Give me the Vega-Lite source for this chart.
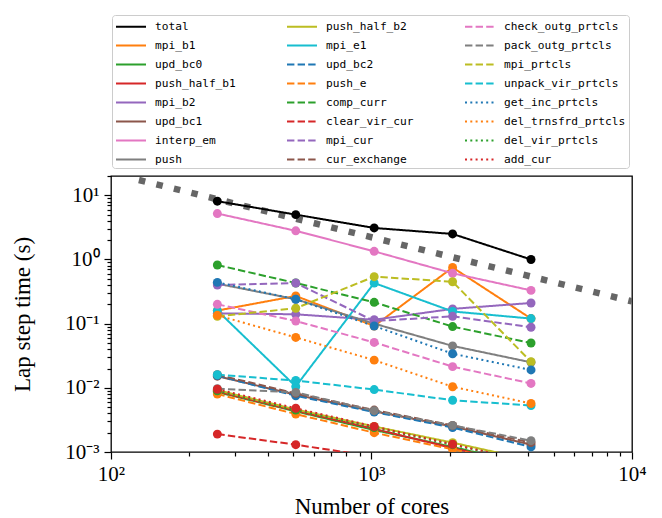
{
  "$schema": "https://vega.github.io/schema/vega-lite/v6.json",
  "width": 521,
  "height": 276,
  "autosize": {"type": "none"},
  "padding": {"left": 111, "top": 176, "right": 30, "bottom": 66},
  "background": "white",
  "config": {
    "view": {"stroke": "black", "strokeWidth": 1.3},
    "axis": {
      "grid": false,
      "domain": false,
      "tickColor": "black",
      "tickWidth": 1.2,
      "labelFont": "Liberation Serif",
      "labelFontSize": 21,
      "labelColor": "black",
      "titleFont": "Liberation Serif",
      "titleFontSize": 23,
      "titleFontWeight": "normal",
      "titleColor": "black",
      "labelFlush": false,
      "labelOverlap": false,
      "labelBound": false
    }
  },
  "datasets": {
    "ideal": [
      {"cores": 128, "time": 17.34},
      {"cores": 10000, "time": 0.222}
    ],
    "timings": [
      {"series": "total", "cores": 256, "time": 8.1},
      {"series": "total", "cores": 512, "time": 5.0},
      {"series": "total", "cores": 1024, "time": 3.1},
      {"series": "total", "cores": 2048, "time": 2.5},
      {"series": "total", "cores": 4096, "time": 1.0},
      {"series": "mpi_b1", "cores": 256, "time": 0.16},
      {"series": "mpi_b1", "cores": 512, "time": 0.27},
      {"series": "mpi_b1", "cores": 1024, "time": 0.092},
      {"series": "mpi_b1", "cores": 2048, "time": 0.75},
      {"series": "mpi_b1", "cores": 4096, "time": 0.12},
      {"series": "upd_bc0", "cores": 256, "time": 0.0086},
      {"series": "upd_bc0", "cores": 512, "time": 0.0043},
      {"series": "upd_bc0", "cores": 1024, "time": 0.0022},
      {"series": "upd_bc0", "cores": 2048, "time": 0.0012},
      {"series": "upd_bc0", "cores": 4096, "time": 0.00062},
      {"series": "push_half_b1", "cores": 256, "time": 0.0088},
      {"series": "push_half_b1", "cores": 512, "time": 0.0044},
      {"series": "push_half_b1", "cores": 1024, "time": 0.0023},
      {"series": "push_half_b1", "cores": 2048, "time": 0.00115},
      {"series": "push_half_b1", "cores": 4096, "time": 0.0006},
      {"series": "mpi_b2", "cores": 256, "time": 0.145},
      {"series": "mpi_b2", "cores": 512, "time": 0.14},
      {"series": "mpi_b2", "cores": 1024, "time": 0.115},
      {"series": "mpi_b2", "cores": 2048, "time": 0.17},
      {"series": "mpi_b2", "cores": 4096, "time": 0.21},
      {"series": "upd_bc1", "cores": 256, "time": 0.0152},
      {"series": "upd_bc1", "cores": 512, "time": 0.0078},
      {"series": "upd_bc1", "cores": 1024, "time": 0.0043},
      {"series": "upd_bc1", "cores": 2048, "time": 0.0025},
      {"series": "upd_bc1", "cores": 4096, "time": 0.0013},
      {"series": "interp_em", "cores": 256, "time": 5.2},
      {"series": "interp_em", "cores": 512, "time": 2.8},
      {"series": "interp_em", "cores": 1024, "time": 1.34},
      {"series": "interp_em", "cores": 2048, "time": 0.61},
      {"series": "interp_em", "cores": 4096, "time": 0.33},
      {"series": "push", "cores": 256, "time": 0.42},
      {"series": "push", "cores": 512, "time": 0.24},
      {"series": "push", "cores": 1024, "time": 0.1},
      {"series": "push", "cores": 2048, "time": 0.045},
      {"series": "push", "cores": 4096, "time": 0.025},
      {"series": "push_half_b2", "cores": 256, "time": 0.0092},
      {"series": "push_half_b2", "cores": 512, "time": 0.0046},
      {"series": "push_half_b2", "cores": 1024, "time": 0.0025},
      {"series": "push_half_b2", "cores": 2048, "time": 0.0014},
      {"series": "push_half_b2", "cores": 4096, "time": 0.00075},
      {"series": "mpi_e1", "cores": 256, "time": 0.16},
      {"series": "mpi_e1", "cores": 512, "time": 0.0105},
      {"series": "mpi_e1", "cores": 1024, "time": 0.43},
      {"series": "mpi_e1", "cores": 2048, "time": 0.155},
      {"series": "mpi_e1", "cores": 4096, "time": 0.12},
      {"series": "upd_bc2", "cores": 256, "time": 0.0155},
      {"series": "upd_bc2", "cores": 512, "time": 0.0075},
      {"series": "upd_bc2", "cores": 1024, "time": 0.0042},
      {"series": "upd_bc2", "cores": 2048, "time": 0.0024},
      {"series": "upd_bc2", "cores": 4096, "time": 0.0012},
      {"series": "push_e", "cores": 256, "time": 0.008},
      {"series": "push_e", "cores": 512, "time": 0.0039},
      {"series": "push_e", "cores": 1024, "time": 0.002},
      {"series": "push_e", "cores": 2048, "time": 0.0011},
      {"series": "push_e", "cores": 4096, "time": 0.0006},
      {"series": "comp_curr", "cores": 256, "time": 0.82},
      {"series": "comp_curr", "cores": 512, "time": 0.43},
      {"series": "comp_curr", "cores": 1024, "time": 0.215},
      {"series": "comp_curr", "cores": 2048, "time": 0.09},
      {"series": "comp_curr", "cores": 4096, "time": 0.05},
      {"series": "clear_vir_cur", "cores": 256, "time": 0.0019},
      {"series": "clear_vir_cur", "cores": 512, "time": 0.0013},
      {"series": "clear_vir_cur", "cores": 1024, "time": 0.00085},
      {"series": "clear_vir_cur", "cores": 2048, "time": 0.0005},
      {"series": "clear_vir_cur", "cores": 4096, "time": 0.0003},
      {"series": "mpi_cur", "cores": 256, "time": 0.4},
      {"series": "mpi_cur", "cores": 512, "time": 0.43},
      {"series": "mpi_cur", "cores": 1024, "time": 0.11},
      {"series": "mpi_cur", "cores": 2048, "time": 0.13},
      {"series": "mpi_cur", "cores": 4096, "time": 0.088},
      {"series": "cur_exchange", "cores": 256, "time": 0.016},
      {"series": "cur_exchange", "cores": 512, "time": 0.0082},
      {"series": "cur_exchange", "cores": 1024, "time": 0.0045},
      {"series": "cur_exchange", "cores": 2048, "time": 0.0026},
      {"series": "cur_exchange", "cores": 4096, "time": 0.0014},
      {"series": "check_outg_prtcls", "cores": 256, "time": 0.2},
      {"series": "check_outg_prtcls", "cores": 512, "time": 0.11},
      {"series": "check_outg_prtcls", "cores": 1024, "time": 0.051},
      {"series": "check_outg_prtcls", "cores": 2048, "time": 0.0214},
      {"series": "check_outg_prtcls", "cores": 4096, "time": 0.0117},
      {"series": "pack_outg_prtcls", "cores": 256, "time": 0.0097},
      {"series": "pack_outg_prtcls", "cores": 512, "time": 0.0085},
      {"series": "pack_outg_prtcls", "cores": 1024, "time": 0.0044},
      {"series": "pack_outg_prtcls", "cores": 2048, "time": 0.0026},
      {"series": "pack_outg_prtcls", "cores": 4096, "time": 0.0015},
      {"series": "mpi_prtcls", "cores": 256, "time": 0.13},
      {"series": "mpi_prtcls", "cores": 512, "time": 0.174},
      {"series": "mpi_prtcls", "cores": 1024, "time": 0.54},
      {"series": "mpi_prtcls", "cores": 2048, "time": 0.45},
      {"series": "mpi_prtcls", "cores": 4096, "time": 0.0255},
      {"series": "unpack_vir_prtcls", "cores": 256, "time": 0.016},
      {"series": "unpack_vir_prtcls", "cores": 512, "time": 0.013},
      {"series": "unpack_vir_prtcls", "cores": 1024, "time": 0.0094},
      {"series": "unpack_vir_prtcls", "cores": 2048, "time": 0.0064},
      {"series": "unpack_vir_prtcls", "cores": 4096, "time": 0.0053},
      {"series": "get_inc_prtcls", "cores": 256, "time": 0.44},
      {"series": "get_inc_prtcls", "cores": 512, "time": 0.24},
      {"series": "get_inc_prtcls", "cores": 1024, "time": 0.092},
      {"series": "get_inc_prtcls", "cores": 2048, "time": 0.034},
      {"series": "get_inc_prtcls", "cores": 4096, "time": 0.019},
      {"series": "del_trnsfrd_prtcls", "cores": 256, "time": 0.135},
      {"series": "del_trnsfrd_prtcls", "cores": 512, "time": 0.061},
      {"series": "del_trnsfrd_prtcls", "cores": 1024, "time": 0.027},
      {"series": "del_trnsfrd_prtcls", "cores": 2048, "time": 0.0104},
      {"series": "del_trnsfrd_prtcls", "cores": 4096, "time": 0.0057},
      {"series": "del_vir_prtcls", "cores": 256, "time": 0.009},
      {"series": "del_vir_prtcls", "cores": 512, "time": 0.0045},
      {"series": "del_vir_prtcls", "cores": 1024, "time": 0.0024},
      {"series": "del_vir_prtcls", "cores": 2048, "time": 0.0013},
      {"series": "del_vir_prtcls", "cores": 4096, "time": 0.0007},
      {"series": "add_cur", "cores": 256, "time": 0.0095},
      {"series": "add_cur", "cores": 512, "time": 0.0048},
      {"series": "add_cur", "cores": 1024, "time": 0.0025},
      {"series": "add_cur", "cores": 2048, "time": 0.00132},
      {"series": "add_cur", "cores": 4096, "time": 0.0007}
    ]
  },
  "layer": [
    {
      "data": {"name": "ideal"},
      "mark": {"type": "line", "color": "#666666", "strokeWidth": 6.5, "strokeDash": [6.5, 11.5], "strokeCap": "butt", "clip": true},
      "encoding": {
        "x": {"field": "cores", "type": "quantitative", "scale": {"type": "log", "domain": [100, 10000], "nice": false}},
        "y": {"field": "time", "type": "quantitative", "scale": {"type": "log", "domain": [0.001, 20], "nice": false}}
      }
    },
    {
      "data": {"name": "timings"},
      "mark": {"type": "line", "strokeWidth": 2, "clip": true, "point": {"filled": true, "size": 80, "opacity": 1}},
      "encoding": {
        "x": {
          "field": "cores", "type": "quantitative",
          "scale": {"type": "log", "domain": [100, 10000], "nice": false},
          "axis": {
            "title": "Number of cores",
            "titlePadding": 11,
            "values": [100, 200, 300, 400, 500, 600, 700, 800, 900, 1000, 2000, 3000, 4000, 5000, 6000, 7000, 8000, 9000, 10000],
            "labelExpr": "datum.value == 100 ? '10²' : datum.value == 1000 ? '10³' : datum.value == 10000 ? '10⁴' : ''",
            "tickSize": {"condition": {"test": "datum.value == 100 || datum.value == 1000 || datum.value == 10000", "value": 7}, "value": 4},
            "labelPadding": 4
          }
        },
        "y": {
          "field": "time", "type": "quantitative",
          "scale": {"type": "log", "domain": [0.001, 20], "nice": false},
          "axis": {
            "title": "Lap step time (s)",
            "titlePadding": 30,
            "values": [0.001, 0.002, 0.003, 0.004, 0.005, 0.006, 0.007, 0.008, 0.009, 0.01, 0.02, 0.03, 0.04, 0.05, 0.06, 0.07, 0.08, 0.09, 0.1, 0.2, 0.3, 0.4, 0.5, 0.6, 0.7, 0.8, 0.9, 1, 2, 3, 4, 5, 6, 7, 8, 9, 10, 20],
            "labelExpr": "datum.value == 0.001 ? '10⁻³' : datum.value == 0.01 ? '10⁻²' : datum.value == 0.1 ? '10⁻¹' : datum.value == 1 ? '10⁰' : datum.value == 10 ? '10¹' : ''",
            "tickSize": {"condition": {"test": "datum.value == 0.001 || datum.value == 0.01 || datum.value == 0.1 || datum.value == 1 || datum.value == 10", "value": 7}, "value": 4},
            "labelPadding": 5
          }
        },
        "color": {
          "field": "series", "type": "nominal",
          "scale": {
            "domain": ["total", "mpi_b1", "upd_bc0", "push_half_b1", "mpi_b2", "upd_bc1", "interp_em", "push", "push_half_b2", "mpi_e1", "upd_bc2", "push_e", "comp_curr", "clear_vir_cur", "mpi_cur", "cur_exchange", "check_outg_prtcls", "pack_outg_prtcls", "mpi_prtcls", "unpack_vir_prtcls", "get_inc_prtcls", "del_trnsfrd_prtcls", "del_vir_prtcls", "add_cur"],
            "range": ["#000000", "#ff7f0e", "#2ca02c", "#d62728", "#9467bd", "#8c564b", "#e377c2", "#7f7f7f", "#bcbd22", "#17becf", "#1f77b4", "#ff7f0e", "#2ca02c", "#d62728", "#9467bd", "#8c564b", "#e377c2", "#7f7f7f", "#bcbd22", "#17becf", "#1f77b4", "#ff7f0e", "#2ca02c", "#d62728"]
          },
          "legend": {
            "orient": "none", "legendX": 1, "legendY": -161,
            "columns": 3, "title": null,
            "symbolType": "M-1,0H3", "symbolSize": 225, "symbolStrokeWidth": 2,
            "labelFont": "DejaVu Sans Mono", "labelFontSize": 11.2, "labelColor": "black",
            "labelOffset": 23, "labelLimit": 0,
            "columnPadding": 47, "rowPadding": 5, "padding": 3,
            "strokeColor": "#cccccc", "fillColor": "white", "cornerRadius": 3
          }
        },
        "strokeDash": {
          "field": "series", "type": "nominal",
          "scale": {
            "domain": ["total", "mpi_b1", "upd_bc0", "push_half_b1", "mpi_b2", "upd_bc1", "interp_em", "push", "push_half_b2", "mpi_e1", "upd_bc2", "push_e", "comp_curr", "clear_vir_cur", "mpi_cur", "cur_exchange", "check_outg_prtcls", "pack_outg_prtcls", "mpi_prtcls", "unpack_vir_prtcls", "get_inc_prtcls", "del_trnsfrd_prtcls", "del_vir_prtcls", "add_cur"],
            "range": [[1, 0], [1, 0], [1, 0], [1, 0], [1, 0], [1, 0], [1, 0], [1, 0], [1, 0], [1, 0], [7.4, 3.2], [7.4, 3.2], [7.4, 3.2], [7.4, 3.2], [7.4, 3.2], [7.4, 3.2], [7.4, 3.2], [7.4, 3.2], [7.4, 3.2], [7.4, 3.2], [2, 3.3], [2, 3.3], [2, 3.3], [2, 3.3]]
          }
        }
      }
    }
  ]
}
